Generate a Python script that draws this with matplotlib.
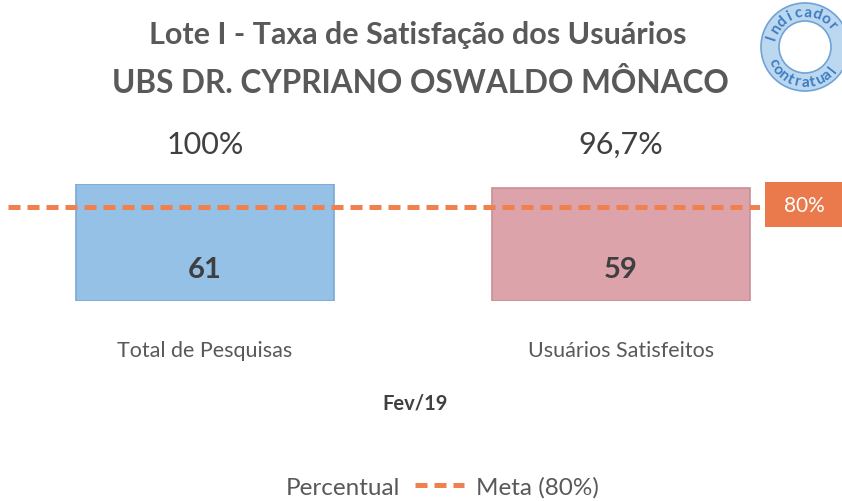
import numpy as np
import matplotlib
matplotlib.use('Agg')
import matplotlib.pyplot as plt
from matplotlib.patches import Patch, Circle, Rectangle
from matplotlib.lines import Line2D

plt.rcParams['font.family'] = ['Lato', 'DejaVu Sans']

# dados
categorias = ['Total de Pesquisas', 'Usuários Satisfeitos']
percentual = [100, 96.7]
rotulos_pct = ['100%', '96,7%']
quantidade = [61, 59]
meta = 80
periodo = 'Fev/19'
cores = ['#95c1e6', '#dca3ab']
bordas = ['#7aa9d4', '#c98f96']
tracejado = (0, (2.4, 1.4))

W, H = 842, 502
fig = plt.figure(figsize=(W / 100, H / 100), dpi=100)
fig.patch.set_facecolor('white')

def px(x0, y0, w, h):
    # caixa em pixels (topo-esquerda) -> coordenadas da figura
    return [x0 / W, 1 - (y0 + h) / H, w / W, h / H]

ax = fig.add_axes(px(8, 185, 752, 117))
x = np.arange(len(categorias))
ax.bar(x, percentual, width=0.62, color=cores, edgecolor=bordas, linewidth=1.2, zorder=2)
ax.axhline(meta, color='#f0814f', lw=3.6, ls=tracejado, zorder=3)
ax.set_xlim(-0.4736, 1.334)
ax.set_ylim(0, 100)
ax.axis('off')

for xi, v, q, lab, cat in zip(x, percentual, quantidade, rotulos_pct, categorias):
    ax.text(xi, 27, str(q), ha='center', va='center', fontsize=21, fontweight='bold',
            color='#3f3f3f', zorder=4)
    ax.annotate(lab, (xi, 100), xytext=(0, 29), textcoords='offset points',
                ha='center', va='center', fontsize=22, color='#404040')
    ax.annotate(cat, (xi, 0), xytext=(0, -35), textcoords='offset points',
                ha='center', va='center', fontsize=15.5, color='#595959')

# caixa da meta
fig.patches.append(Rectangle((765 / W, 1 - 228 / H), 77 / W, 45 / H,
                             transform=fig.transFigure, facecolor='#ea7a4c',
                             edgecolor='none'))
fig.text(804 / W, 1 - 206 / H, '80%', ha='center', va='center', fontsize=15, color='white')

# títulos
fig.text(418 / W, 1 - 35 / H, 'Lote I - Taxa de Satisfação dos Usuários', ha='center',
         va='center', fontsize=22, fontweight='bold', color='#595959')
fig.text(420 / W, 1 - 83 / H, 'UBS DR. CYPRIANO OSWALDO MÔNACO', ha='center',
         va='center', fontsize=22.7, fontweight='bold', color='#595959')
fig.text(415 / W, 1 - 404 / H, periodo, ha='center', va='center', fontsize=14.5,
         fontweight='bold', color='#404040')

# legenda
handles = [Patch(facecolor='none', edgecolor='none', label='Percentual'),
           Line2D([], [], color='#f0814f', lw=3.6, ls=tracejado, label='Meta (80%)')]
fig.legend(handles=handles, loc='center', bbox_to_anchor=(412 / W, 1 - 488 / H), ncol=2,
           frameon=False, fontsize=17.5, labelcolor='#595959', handlelength=2.0,
           columnspacing=0.6, handletextpad=0.5)

# selo "Indicador contratual"
lx = fig.add_axes(px(755, 0, 87, 100))
lx.set_xlim(755, 842)
lx.set_ylim(100, 0)
lx.set_aspect('equal')
lx.axis('off')
cx, cy = 805, 48
lx.add_patch(Circle((cx, cy), 44, facecolor='#bcd8f0', edgecolor='#6fa3d6', lw=1.2, clip_on=False))
lx.add_patch(Circle((cx, cy), 26, facecolor='white', edgecolor='#6fa3d6', lw=1.2, clip_on=False))
r = 35
for texto, a0, a1, topo in [('Indicador', 162, 40, True), ('contratual', 205, 322, False)]:
    angs = np.linspace(a0, a1, len(texto))
    for ch, a in zip(texto, angs):
        t = np.deg2rad(a)
        px_ = cx + r * np.cos(t)
        py_ = cy - r * np.sin(t)
        rot = a - 90 if topo else a + 90
        lx.text(px_, py_, ch, ha='center', va='center', rotation=rot, fontsize=11,
                fontweight='bold', color='#3b7dc4', rotation_mode='anchor', clip_on=False)

fig.savefig('out.png', dpi=100, facecolor='white')
